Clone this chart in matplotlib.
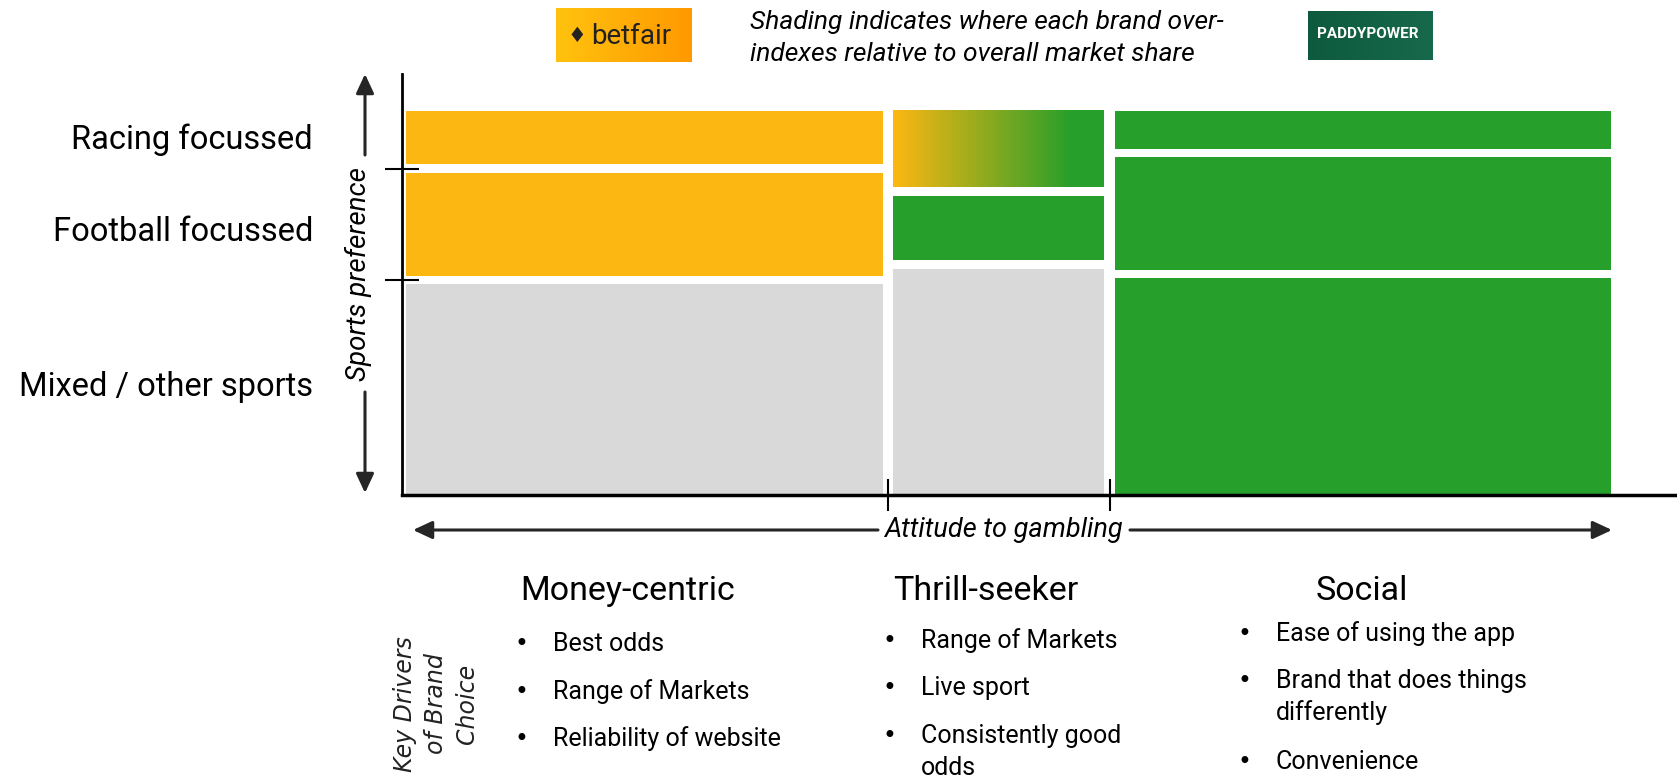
import numpy as np
import matplotlib.pyplot as plt
from matplotlib.colors import LinearSegmentedColormap

# segment widths along "Attitude to gambling" (share of market, %)
segments = ["Money-centric", "Thrill-seeker", "Social"]
seg_width = [40, 18.4, 41.6]

# sports preference split inside each segment, bottom to top (%)
rows = ["Mixed / other sports", "Football focussed", "Racing focussed"]
money_rows = [56, 29, 15]
thrill_rows = [60, 19, 21]
social_rows = [57.5, 31.5, 11]

# which brand over-indexes in each cell (bottom to top)
money_brand = ["none", "betfair", "betfair"]
thrill_brand = ["none", "paddy", "both"]
social_brand = ["paddy", "paddy", "paddy"]

drivers = {
    "Money-centric": [["Best odds"], ["Range of Markets"], ["Reliability of website"]],
    "Thrill-seeker": [["Range of Markets"], ["Live sport"], ["Consistently good", "odds"]],
    "Social": [["Ease of using the app"], ["Brand that does things", "differently"], ["Convenience"]],
}

YELLOW = "#FDB713"
GREEN = "#279F2B"
GREY = "#D9D9D9"
colours = {"none": GREY, "betfair": YELLOW, "paddy": GREEN}
FONT = ["Liberation Sans Narrow", "Roboto", "DejaVu Sans"]

W, H = 1677, 777
fig = plt.figure(figsize=(W / 100, H / 100), dpi=100)

# overlay axes in pixel coordinates for the annotations
over = fig.add_axes([0, 0, 1, 1])
over.axis("off")

# mosaic axes
x0, x1, yb, yt = 402, 1677, 495, 74
ax = fig.add_axes([x0 / W, 1 - yb / H, (x1 - x0) / W, (yb - yt) / H])
px_x = 1205 / 100.0
px_y = 384 / 100.0
xlim = (-(406 - x0) / px_x, (x1 - 406) / px_x)
ylim = (0, (yb - yt) / px_y)

gx = 0.9  # horizontal gap between segments
gy = 2.2  # vertical gap between cells
all_rows = [money_rows, thrill_rows, social_rows]
all_brand = [money_brand, thrill_brand, social_brand]
grad = LinearSegmentedColormap.from_list("g", [YELLOW, GREEN])

left = 0
for i, (w, shares, brands) in enumerate(zip(seg_width, all_rows, all_brand)):
    l = left + (gx / 2 if i > 0 else 0)
    r = left + w - (gx / 2 if i < len(seg_width) - 1 else 0)
    bottom = 0
    for j, (s, b) in enumerate(zip(shares, brands)):
        lo = bottom + (gy / 2 if j > 0 else 0)
        hi = bottom + s - (gy / 2 if j < len(shares) - 1 else 0)
        if b == "both":
            g = np.clip(np.linspace(0, 1 / 0.85, 256), 0, 1)[None, :]
            ax.imshow(g, cmap=grad, extent=(l, r, lo, hi), aspect="auto",
                      interpolation="bilinear", zorder=2)
        else:
            ax.bar(l, hi - lo, width=r - l, bottom=lo, align="edge",
                   color=colours[b], zorder=2)
        bottom += s
    left += w

ax.set_xlim(*xlim)
ax.set_ylim(*ylim)
for s in ["top", "right"]:
    ax.spines[s].set_visible(False)
ax.spines["left"].set_linewidth(2)
ax.spines["bottom"].set_linewidth(2.5)
ax.set_xticks(np.cumsum(seg_width)[:-1])
ax.set_yticks(np.cumsum(money_rows)[:-1])
ax.set_xticklabels([])
ax.set_yticklabels([])
ax.tick_params(axis="x", direction="inout", length=23, width=1.5)
ax.tick_params(axis="y", direction="inout", length=25, width=1.5)

# row labels at the centre of the money-centric cells
centres = np.cumsum(money_rows) - np.array(money_rows) / 2
for lab, c in zip(rows, centres):
    ax.text(-(x0 - 313) / (x1 - x0), c + (-2 if "Football" in lab else 0), lab,
            transform=ax.get_yaxis_transform(),
            ha="right", va="center", fontsize=23.5, family=FONT)

# arrows
ap = dict(arrowstyle="-|>,head_length=0.58,head_width=0.27", color="#262626",
          lw=2.2, shrinkA=0, shrinkB=0, mutation_scale=20)
over.annotate("", xy=(365, 74), xytext=(365, 155), arrowprops=ap)
over.annotate("", xy=(365, 493), xytext=(365, 392), arrowprops=ap)
over.text(358, 274, "Sports preference", rotation=90, ha="center", va="center",
          fontsize=20, style="italic", family=FONT)
over.annotate("", xy=(413, 530), xytext=(878, 530), arrowprops=ap)
over.annotate("", xy=(1612, 530), xytext=(1130, 530), arrowprops=ap)
over.text(1003, 530, "Attitude to gambling", ha="center", va="center",
          fontsize=19.5, style="italic", family=FONT)

# header: logos and note
bf = LinearSegmentedColormap.from_list("bf", ["#FFC20E", "#FF9900"])
over.imshow(np.linspace(0, 1, 64)[None, :], cmap=bf, extent=(556, 692, 62, 8),
            aspect="auto", zorder=1)
over.text(577, 36, "\u2666", ha="center", va="center", fontsize=15, color="#222222")
over.text(631, 36, "betfair", ha="center", va="center", fontsize=20,
          color="#222222", family=FONT)
pp = LinearSegmentedColormap.from_list("pp", ["#0E5A3F", "#17694C"])
over.imshow(np.linspace(0, 1, 64)[None, :], cmap=pp, extent=(1308, 1433, 60, 11),
            aspect="auto", zorder=1)
over.text(1368, 34, "PADDYPOWER", ha="center", va="center", fontsize=11,
          color="white", weight="bold", family=FONT)
over.set_xlim(0, W)
over.set_ylim(H, 0)
over.text(750, 22, "Shading indicates where each brand over-", ha="left", va="center",
          fontsize=19, style="italic", family=FONT)
over.text(750, 54, "indexes relative to overall market share", ha="left", va="center",
          fontsize=19, style="italic", family=FONT)

# key drivers
over.text(436, 704, "Key Drivers\nof Brand\nChoice", rotation=90, ha="center",
          va="center", multialignment="center", fontsize=17, style="italic",
          color="#222222", linespacing=1.35)
head_x = [628, 986, 1362]
bullet_x = [521, 889, 1244]
line_y = [[644, 692, 739], [641, 688, 736], [634, 681, 762]]
for k, seg in enumerate(segments):
    over.text(head_x[k], 591, seg, ha="center", va="center", fontsize=24.5, family=FONT)
    for item, yy in zip(drivers[seg], line_y[k]):
        over.text(bullet_x[k], yy, "\u2022", ha="center", va="center", fontsize=17)
        for n, t in enumerate(item):
            over.text(bullet_x[k] + 32, yy + 32 * n, t, ha="left", va="center",
                      fontsize=18, family=FONT)

fig.savefig("out.png", dpi=100)
